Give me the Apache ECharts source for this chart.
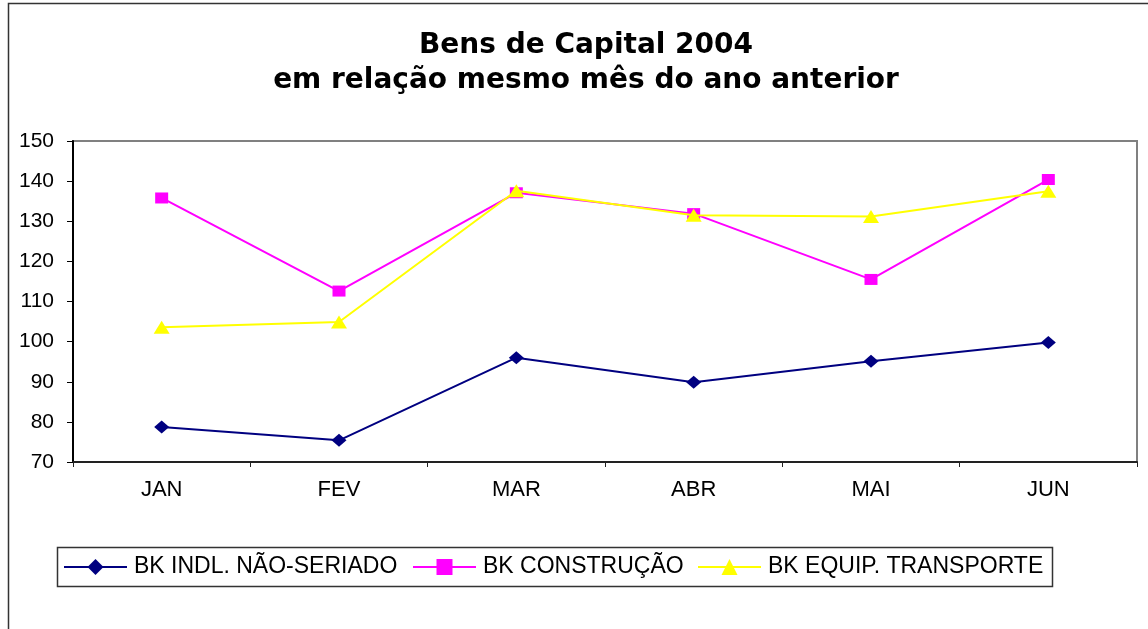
<!DOCTYPE html>
<html>
<head>
<meta charset="utf-8">
<script src="https://cdn.jsdelivr.net/npm/echarts@6/dist/echarts.min.js"></script>
<style>
  html, body { margin: 0; padding: 0; background: #ffffff; }
  #chart { width: 1148px; height: 629px; }
</style>
</head>
<body>
<div id="chart"></div>
<script>
const titleLines = ['Bens de Capital 2004', 'em relação mesmo mês do ano anterior'];
const categories = ['JAN', 'FEV', 'MAR', 'ABR', 'MAI', 'JUN'];
const seriesNames = ['BK INDL. NÃO-SERIADO', 'BK CONSTRUÇÃO', 'BK EQUIP. TRANSPORTE'];
const naoSeriado = [78.7, 75.4, 96.0, 89.9, 95.1, 99.8];
const construcao = [135.8, 112.6, 137.1, 131.9, 115.5, 140.4];
const transporte = [103.6, 104.9, 137.6, 131.5, 131.2, 137.5];
const yMin = 70, yMax = 150, yStep = 10;

const colors = ['#000080', '#FF00FF', '#FFFF00'];
const symbols = ['diamond', 'rect', 'triangle'];
const symbolSizes = [[15, 13], [13, 11], [16, 13]];
const values = [naoSeriado, construcao, transporte];
const legendLefts = [63, 412, 697];

const chart = echarts.init(document.getElementById('chart'), null, { renderer: 'canvas' });

const option = {
  backgroundColor: '#ffffff',
  animation: false,
  title: {
    text: titleLines.join('\n'),
    left: 586,
    top: 28,
    padding: 0,
    textAlign: 'center',
    textStyle: {
      fontFamily: 'DejaVu Sans',
      fontWeight: 'bold',
      fontSize: 28,
      lineHeight: 35,
      color: '#000000'
    }
  },
  legend: seriesNames.map((name, i) => ({
    data: [name],
    left: legendLefts[i],
    top: 555,
    padding: 0,
    itemWidth: 63,
    itemHeight: 20,
    itemGap: 10,
    lineStyle: { width: 2 },
    textStyle: {
      fontFamily: 'Liberation Sans',
      fontSize: 23,
      lineHeight: 24,
      color: '#000000',
      padding: [0, 0, 0, 2]
    }
  })),
  graphic: [
    {
      type: 'rect',
      shape: { x: 8.5, y: 3.5, width: 1160, height: 660 },
      style: { fill: 'none', stroke: '#333333', lineWidth: 1.5 },
      silent: true,
      z: -1
    },
    {
      type: 'rect',
      shape: { x: 57.5, y: 547.5, width: 995, height: 39 },
      style: { fill: 'none', stroke: '#333333', lineWidth: 1.5 },
      silent: true,
      z: -1
    }
  ],
  grid: {
    left: 73,
    top: 141,
    right: 11,
    bottom: 167,
    show: true,
    borderColor: '#808080',
    borderWidth: 2,
    backgroundColor: 'transparent'
  },
  xAxis: {
    type: 'category',
    data: categories,
    boundaryGap: true,
    axisLine: { show: true, lineStyle: { color: '#222222', width: 2 } },
    axisTick: { show: true, length: 5, interval: 0, lineStyle: { color: '#222222', width: 1 } },
    axisLabel: {
      interval: 0,
      margin: 17,
      fontFamily: 'Liberation Sans',
      fontSize: 22,
      color: '#000000'
    },
    splitLine: { show: false }
  },
  yAxis: {
    type: 'value',
    min: yMin,
    max: yMax,
    interval: yStep,
    axisLine: { show: true, lineStyle: { color: '#000000', width: 2 } },
    axisTick: { show: true, length: 6, lineStyle: { color: '#000000', width: 1 } },
    axisLabel: {
      margin: 19,
      fontFamily: 'Liberation Sans',
      fontSize: 21,
      color: '#000000'
    },
    splitLine: { show: false }
  },
  series: seriesNames.map((name, i) => ({
    name: name,
    type: 'line',
    data: values[i],
    symbol: symbols[i],
    symbolSize: symbolSizes[i],
    showAllSymbol: true,
    lineStyle: { color: colors[i], width: 2 },
    itemStyle: { color: colors[i], borderWidth: 0 },
    emphasis: { disabled: true },
    z: 2 + i
  }))
};

chart.setOption(option);
</script>
</body>
</html>
